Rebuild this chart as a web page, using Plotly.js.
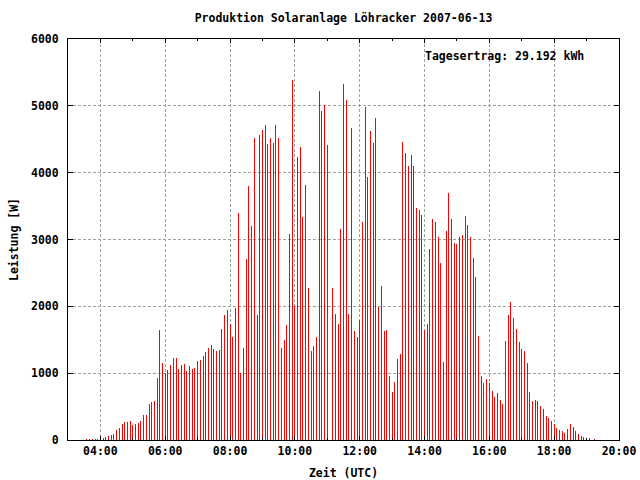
<!DOCTYPE html>
<html><head><meta charset="utf-8">
<script src="https://cdn.plot.ly/plotly-3.0.1.min.js"></script>
<style>html,body{margin:0;padding:0;background:#fff}#chart{width:640px;height:480px}</style>
</head><body><div id="chart"></div>
<script>
const chartTitle = 'Produktion Solaranlage Löhracker 2007-06-13';
const dayDate = '2007-06-13';
const firstSample = '03:35';
const sampleStepMinutes = 5;
const xRange = ['03:00', '20:00'];
const yRange = [0, 6000];
const yieldText = 'Tagesertrag: 29.192 kWh';
const xLabel = 'Zeit (UTC)';
const yLabel = 'Leistung [W]';
// power in W, one value every 5 minutes starting 03:35 UTC
const power = [
  15, 15, 15, 15, 15,
  20, 30, 45, 65, 80, 95, 150, 185, 240, 270, 270, 285,
  230, 245, 255, 285, 375, 375, 540, 570, 585, 930, 1650, 1150,
  1000, 1050, 1120, 1225, 1225, 1060, 1120, 1135, 1030, 1105, 1060, 1075,
  1180, 1195, 1255, 1315, 1375, 1420, 1360, 1330, 1345, 1660, 1870, 1945,
  1740, 1540, 1975, 3395, 1000, 1375, 2710, 3800, 3200, 4520, 1870, 4565,
  4640, 4715, 4430, 4520, 4445, 4715, 4520, 1375, 1495, 1720, 3080, 5385,
  2000, 4235, 4385, 3335, 3815, 2275, 1330, 1405, 1540, 5220, 4925, 5010,
  4415, 1615, 2275, 1885, 1735, 3155, 5325, 5085, 1885, 4670, 1630, 1540,
  1795, 3260, 4985, 3935, 4625, 4445, 4820, 1990, 2305, 1630, 1645, 960,
  720, 870, 1210, 1285, 4460, 4295, 4100, 4265, 4100, 3470, 3440, 3365,
  1645, 1735, 2860, 3305, 3260, 3035, 2650, 1165, 3125, 3695, 3305, 2950,
  2935, 3035, 3065, 3350, 3215, 3035, 2725, 2440, 1555, 960, 855, 915,
  855, 735, 645, 705, 600, 540, 1480, 1870, 2065, 1825, 1660, 1465,
  1360, 1330, 1150, 720, 585, 600, 585, 510, 465, 360, 330, 285,
  240, 180, 150, 135, 105, 165, 240, 195, 135, 90, 60, 45,
  30, 30, 15, 15
];

function pad(n){ return (n < 10 ? '0' : '') + n; }
function sampleTimes(){
  const [h0, m0] = firstSample.split(':').map(Number);
  return power.map((_, i) => {
    const t = h0 * 60 + m0 + i * sampleStepMinutes;
    return dayDate + ' ' + pad(Math.floor(t / 60)) + ':' + pad(t % 60);
  });
}

const font = {family: 'DejaVu Sans Mono', size: 11.5, color: '#000', weight: 'bold'};

const trace = {
  type: 'bar',
  x: sampleTimes(),
  y: power,
  width: 110000,
  marker: {color: '#ff0000', line: {width: 0}},
  hoverinfo: 'x+y'
};

const layout = {
  width: 640, height: 480,
  margin: {l: 68, r: 21, t: 39, b: 40, pad: 0},
  paper_bgcolor: '#fff', plot_bgcolor: '#fff',
  font: font,
  showlegend: false,
  bargap: 0,
  title: {text: chartTitle, font: font, x: 0.5, xref: 'paper', y: 1 - 18/480, yanchor: 'middle'},
  xaxis: {
    type: 'date',
    range: [dayDate + ' ' + xRange[0], dayDate + ' ' + xRange[1]],
    tick0: dayDate + ' 04:00', dtick: 7200000,
    tickformat: '%H:%M',
    ticks: 'inside', ticklen: 4, tickcolor: '#000', tickwidth: 1,
    showline: true, linecolor: '#000', linewidth: 1, mirror: 'ticks',
    showgrid: true, gridcolor: '#a0a0a0', gridwidth: 1, griddash: '3px,2px',
    zeroline: false,
    minor: {dtick: 3600000, tick0: dayDate + ' 03:00', ticks: 'inside', ticklen: 2, tickcolor: '#000', showgrid: false},
    tickfont: font,
    automargin: false,
    title: {text: xLabel, font: font, standoff: 12}
  },
  yaxis: {
    range: yRange, dtick: 1000, tickformat: 'd',
    ticks: 'inside', ticklen: 5, tickcolor: '#000', tickwidth: 1,
    showline: true, linecolor: '#000', linewidth: 1, mirror: 'ticks',
    showgrid: true, gridcolor: '#a0a0a0', gridwidth: 1, griddash: '3px,2px',
    zeroline: false,
    tickfont: font,
    ticklabelstandoff: 6,
    automargin: false,
    title: {text: yLabel, font: font, standoff: 9}
  },
  annotations: [{
    text: yieldText, xref: 'paper', yref: 'paper',
    x: 0.9395, y: 0.9576, xanchor: 'right', yanchor: 'middle',
    showarrow: false, font: font
  }]
};

Plotly.newPlot('chart', [trace], layout, {staticPlot: true, displayModeBar: false});
</script>
</body></html>
